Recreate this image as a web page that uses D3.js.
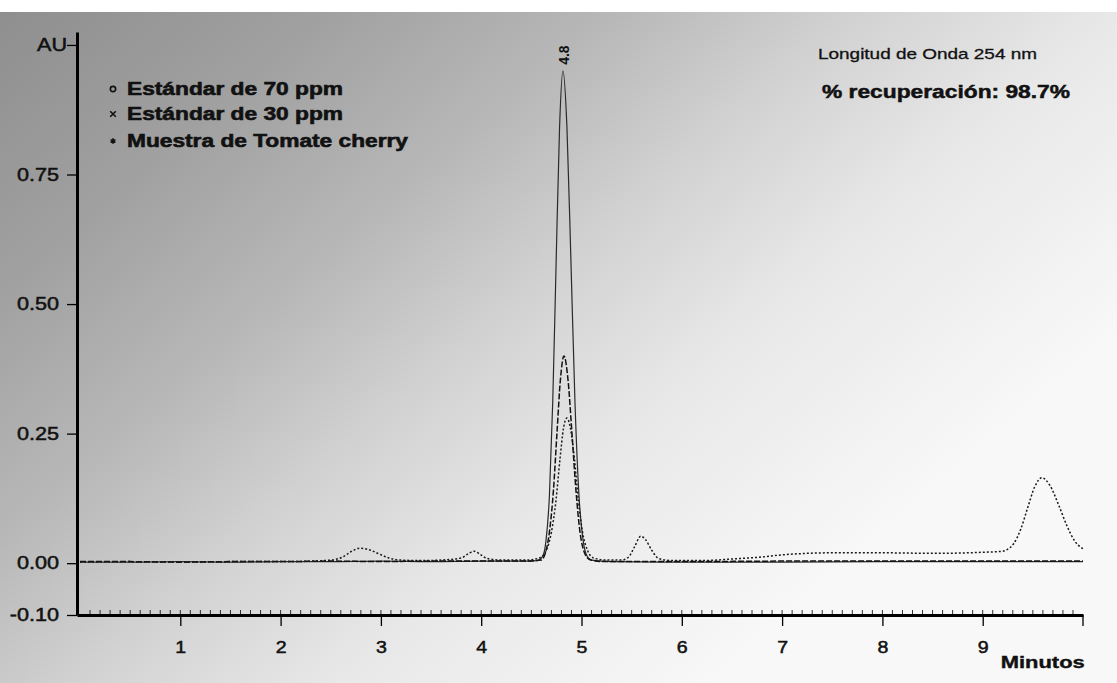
<!DOCTYPE html>
<html>
<head>
<meta charset="utf-8">
<script src="https://cdn.jsdelivr.net/npm/d3@7"></script>
<style>
  html, body { margin: 0; padding: 0; background: #fff; }
  svg { display: block; }
  text { font-family: "Liberation Sans", Arial, sans-serif; fill: #111; }
</style>
</head>
<body>
<svg id="chart" width="1117" height="683"></svg>
<script>
// ---- Chromatogram traces: retention time (min) and absorbance (AU) ----
const std70Time = [0.00, 0.50, 1.00, 1.50, 2.00, 2.50, 3.00, 3.50, 4.00, 4.40, 4.56, 4.61, 4.645, 4.68, 4.713, 4.747, 4.781, 4.815, 4.855, 4.895, 4.935, 4.975, 5.015, 5.055, 5.10, 5.30, 6.00, 7.00, 8.00, 9.00, 10.00];
const std70AU   = [0.002, 0.002, 0.003, 0.002, 0.003, 0.003, 0.004, 0.003, 0.004, 0.004, 0.005, 0.012, 0.042, 0.13, 0.31, 0.58, 0.84, 0.95, 0.84, 0.58, 0.31, 0.13, 0.045, 0.014, 0.006, 0.003, 0.002, 0.002, 0.003, 0.003, 0.003];

const std30Time = [0.00, 0.50, 1.00, 1.50, 2.00, 2.50, 3.00, 3.50, 4.00, 4.40, 4.60, 4.64, 4.68, 4.72, 4.755, 4.79, 4.825, 4.865, 4.905, 4.945, 4.985, 5.03, 5.08, 5.20, 6.00, 7.00, 8.00, 9.00, 10.00];
const std30AU   = [0.003, 0.003, 0.002, 0.003, 0.003, 0.004, 0.003, 0.004, 0.004, 0.004, 0.006, 0.02, 0.06, 0.14, 0.25, 0.355, 0.40, 0.355, 0.25, 0.14, 0.06, 0.02, 0.007, 0.003, 0.003, 0.004, 0.004, 0.004, 0.004];

const tomatoTime = [0.00, 0.50, 1.00, 1.50, 2.00, 2.30, 2.50, 2.62, 2.70, 2.79, 2.88, 2.98, 3.08, 3.20, 3.40, 3.60, 3.80, 3.87, 3.93, 3.99, 4.06, 4.20, 4.45, 4.58, 4.65, 4.70, 4.745, 4.785, 4.82, 4.855, 4.89, 4.93, 4.97, 5.01, 5.06, 5.12, 5.25, 5.40, 5.47, 5.53, 5.59, 5.64, 5.70, 5.77, 5.90, 6.20, 6.50, 6.80, 7.00, 7.50, 8.00, 8.50, 9.00, 9.20, 9.25, 9.31, 9.38, 9.45, 9.52, 9.59, 9.67, 9.76, 9.84, 9.92, 10.00];
const tomatoAU   = [0.002, 0.003, 0.002, 0.003, 0.003, 0.004, 0.006, 0.012, 0.022, 0.029, 0.026, 0.018, 0.010, 0.006, 0.005, 0.006, 0.010, 0.018, 0.023, 0.017, 0.009, 0.006, 0.006, 0.010, 0.025, 0.06, 0.12, 0.20, 0.26, 0.28, 0.26, 0.20, 0.12, 0.06, 0.025, 0.010, 0.006, 0.006, 0.012, 0.032, 0.052, 0.045, 0.025, 0.009, 0.005, 0.005, 0.008, 0.012, 0.016, 0.020, 0.020, 0.019, 0.021, 0.023, 0.027, 0.038, 0.066, 0.108, 0.148, 0.165, 0.150, 0.111, 0.072, 0.042, 0.028];

const seriesNames = ["Estándar de 70 ppm", "Estándar de 30 ppm", "Muestra de Tomate cherry"];

// ---- Axis ticks ----
const yTickValues = [-0.10, 0.00, 0.25, 0.50, 0.75, 1.00];
const yTickLabels = ["-0.10", "0.00", "0.25", "0.50", "0.75", "AU"];
const xTickValues = [1, 2, 3, 4, 5, 6, 7, 8, 9];
const xAxisTitle = "Minutos";

// ---- Annotations ----
const peakLabel = "4.8";
const peakLabelTime = 4.815;
const peakLabelAU = 0.95;
const wavelengthNote = "Longitud de Onda 254 nm";
const recoveryNote = "% recuperación: 98.7%";

// ---------------------------------------------------------------
const svg = d3.select("#chart");
const W = 1117, H = 683;

// scanned-paper tone behind the chart
const defs = svg.append("defs");
const grad = defs.append("linearGradient")
  .attr("id", "paper")
  .attr("gradientUnits", "userSpaceOnUse")
  .attr("x1", 0).attr("y1", 0).attr("x2", 640).attr("y2", 745);
[[0, "#8e8e8e"], [0.22, "#a0a0a0"], [0.42, "#b8b8b8"], [0.58, "#d2d2d2"], [0.75, "#e8e8e8"], [1, "#f8f8f8"]]
  .forEach(([o, c]) => grad.append("stop").attr("offset", o).attr("stop-color", c));
svg.append("rect").attr("x", 0).attr("y", 12).attr("width", W).attr("height", H - 12)
  .attr("fill", "url(#paper)");

const x = d3.scaleLinear().domain([-0.03, 10]).range([77, 1083]);
const y = d3.scaleLinear().domain([-0.10, 1.025]).range([615, 32]);

// ---- traces ----
const traces = [
  { t: std70Time, v: std70AU, stroke: "#2a2a2a", width: 1.2, dash: null },
  { t: std30Time, v: std30AU, stroke: "#111", width: 1.5, dash: "6,2" },
  { t: tomatoTime, v: tomatoAU, stroke: "#1a1a1a", width: 1.5, dash: "2,2" }
];
const line = d3.line().x(d => x(d[0])).y(d => y(d[1])).curve(d3.curveMonotoneX);
traces.forEach(s => {
  const pts = s.t.map((t, i) => [t, s.v[i]]);
  svg.append("path")
    .attr("d", line(pts))
    .attr("fill", "none")
    .attr("stroke", s.stroke)
    .attr("stroke-width", s.width)
    .attr("stroke-dasharray", s.dash);
});

// ---- axes ----
const stretch = [];

const yAxis = svg.append("g")
  .attr("transform", `translate(${x(-0.03)},0)`)
  .call(d3.axisLeft(y).tickValues(yTickValues)
    .tickFormat((d, i) => yTickLabels[i]).tickSize(10).tickSizeOuter(0).tickPadding(8));
yAxis.select(".domain").attr("stroke", "#000").attr("stroke-width", 3);
yAxis.selectAll(".tick line").attr("stroke", "#000").attr("stroke-width", 1.3);
yAxis.selectAll(".tick text").attr("font-size", 18).style("font-family", "Liberation Sans, Arial, sans-serif")
  .attr("fill", "#111").attr("stroke", "#111").attr("stroke-width", 0.5)
  .each(function (d) { stretch.push([this, 1.2]); if (d === 1.0) d3.select(this).attr("x", -10); });

const xAxis = svg.append("g")
  .attr("transform", `translate(0,${y(-0.10)})`)
  .call(d3.axisBottom(x).tickValues(xTickValues).tickFormat(d3.format("d"))
    .tickSize(11).tickSizeOuter(0).tickPadding(15));
xAxis.select(".domain").attr("stroke", "#000").attr("stroke-width", 3);
xAxis.selectAll(".tick line").attr("stroke", "#000").attr("stroke-width", 1.3);
xAxis.selectAll(".tick text").attr("font-size", 17).style("font-family", "Liberation Sans, Arial, sans-serif")
  .attr("fill", "#111").attr("stroke", "#111").attr("stroke-width", 0.5)
  .each(function () { stretch.push([this, 1.15]); });

// closing tick at the end of the time axis
xAxis.append("line")
  .attr("x1", x(10)).attr("x2", x(10)).attr("y1", 0).attr("y2", 11)
  .attr("stroke", "#000").attr("stroke-width", 1.3);

// fine tick marks along the time axis
const minor = d3.range(1, 100).map(i => i / 10);
xAxis.selectAll("line.minor").data(minor).join("line")
  .attr("class", "minor")
  .attr("x1", d => x(d)).attr("x2", d => x(d))
  .attr("y1", -1).attr("y2", -5)
  .attr("stroke", "#000").attr("stroke-width", 0.8);

// axis title
svg.append("text")
  .attr("x", x(9.18)).attr("y", y(-0.10) + 53)
  .attr("font-size", 17).attr("font-weight", "bold")
  .attr("stroke", "#111").attr("stroke-width", 0.4)
  .attr("textLength", 84).attr("lengthAdjust", "spacingAndGlyphs")
  .text(xAxisTitle);

// ---- legend ----
const symbols = [d3.symbolCircle, d3.symbolTimes, d3.symbolAsterisk];
const legendY = [95, 120, 147];
const legendLen = [216, 216, 281];
seriesNames.forEach((name, i) => {
  svg.append("path")
    .attr("transform", `translate(113,${legendY[i] - 6})`)
    .attr("d", d3.symbol().type(symbols[i]).size(22)())
    .attr("fill", "none").attr("stroke", "#111").attr("stroke-width", 1.6);
  svg.append("text")
    .attr("x", 127).attr("y", legendY[i])
    .attr("font-size", 18).attr("font-weight", "bold")
    .attr("stroke", "#111").attr("stroke-width", 0.6)
    .attr("textLength", legendLen[i]).attr("lengthAdjust", "spacingAndGlyphs")
    .text(name);
});

// ---- notes, top right ----
svg.append("text")
  .attr("x", 818).attr("y", 59)
  .attr("font-size", 15)
  .attr("stroke", "#111").attr("stroke-width", 0.3)
  .attr("textLength", 219).attr("lengthAdjust", "spacingAndGlyphs")
  .text(wavelengthNote);
svg.append("text")
  .attr("x", 822).attr("y", 98)
  .attr("font-size", 19).attr("font-weight", "bold")
  .attr("stroke", "#111").attr("stroke-width", 0.5)
  .attr("textLength", 248).attr("lengthAdjust", "spacingAndGlyphs")
  .text(recoveryNote);

// ---- retention time label over the main peak ----
const px = x(peakLabelTime) + 6, py = y(peakLabelAU) - 6;
svg.append("text")
  .attr("transform", `translate(${px},${py}) rotate(-90)`)
  .attr("font-size", 14).attr("font-weight", "bold")
  .text(peakLabel);

// widen tick labels slightly, like the printed original
stretch.forEach(([node, k]) => {
  const w = node.getComputedTextLength();
  d3.select(node).attr("textLength", w * k).attr("lengthAdjust", "spacingAndGlyphs");
});
</script>
</body>
</html>
